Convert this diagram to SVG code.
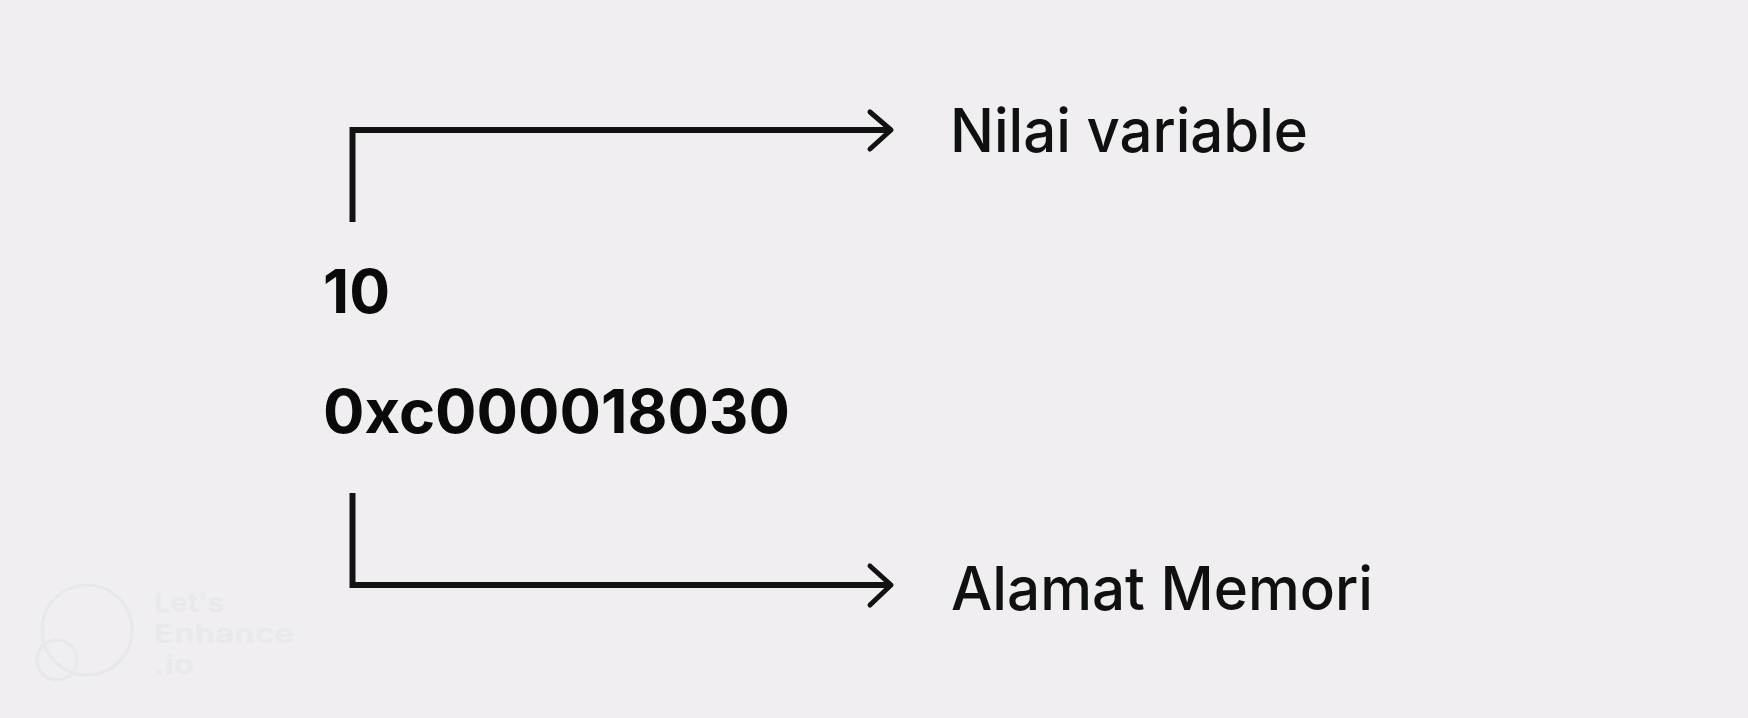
<svg xmlns="http://www.w3.org/2000/svg" width="1748" height="718" viewBox="0 0 1748 718">
<style>
.lbl{font-family:Inter,"Liberation Sans",sans-serif;font-size:60px;font-weight:500;fill:#0f1110}
.val{font-family:Inter,"Liberation Sans",sans-serif;font-size:60px;font-weight:700;fill:#0a0a0a}
.wm{font-family:Inter,"Liberation Sans",sans-serif;font-size:26px;font-weight:700;fill:#e8e9ee}
.conn{fill:none;stroke:#121212;stroke-width:6;stroke-linejoin:miter;stroke-linecap:butt}
.head{fill:none;stroke:#121212;stroke-width:5;stroke-linecap:round;stroke-linejoin:round}
</style>
<rect width="1748" height="718" fill="#f0eef0"/>
<g id="watermark">
<circle cx="87" cy="630" r="45" fill="none" stroke="#e7e8ed" stroke-width="3"/>
<circle cx="57" cy="660" r="20" fill="none" stroke="#e7e8ed" stroke-width="3"/>
<text class="wm" x="154" y="612" textLength="70" lengthAdjust="spacingAndGlyphs">Let's</text>
<text class="wm" x="154" y="643" textLength="140" lengthAdjust="spacingAndGlyphs">Enhance</text>
<text class="wm" x="154" y="674" textLength="40" lengthAdjust="spacingAndGlyphs">.io</text>
</g>
<g id="connectors">
<path class="conn" d="M352.5 222 V130 H890"/>
<path class="head" d="M870 112 L891 130 L870 149"/>
<path class="conn" d="M352.5 493 V585 H890"/>
<path class="head" d="M870 566 L891 585 L870 605"/>
</g>
<g id="value">
<text class="val" x="323" y="313" textLength="67" lengthAdjust="spacingAndGlyphs">10</text>
</g>
<g id="address">
<text class="val" x="323" y="433" textLength="467" lengthAdjust="spacingAndGlyphs">0xc000018030</text>
</g>
<g id="label-value">
<text class="lbl" x="950" y="152" textLength="358" lengthAdjust="spacingAndGlyphs">Nilai variable</text>
</g>
<g id="label-address">
<text class="lbl" x="951" y="610" textLength="422" lengthAdjust="spacingAndGlyphs">Alamat Memori</text>
</g>
</svg>
